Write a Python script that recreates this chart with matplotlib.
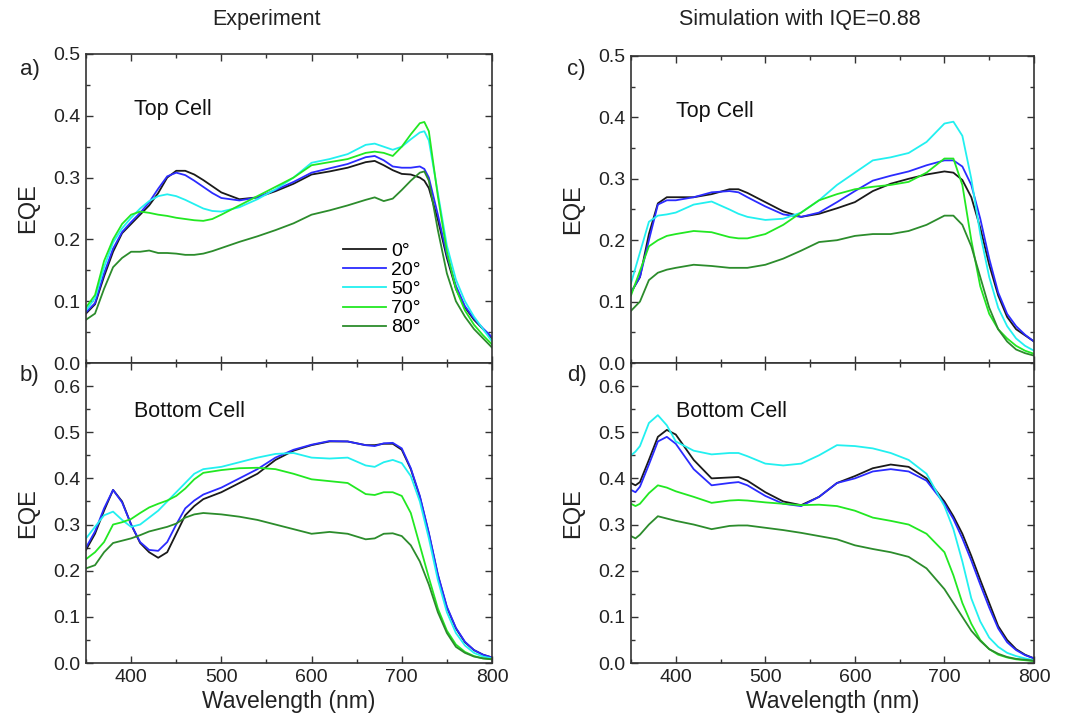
import matplotlib
matplotlib.use("Agg")
import matplotlib.pyplot as plt
from matplotlib.ticker import MultipleLocator

plt.rcParams['font.family'] = ['Liberation Sans', 'DejaVu Sans']

angles = ['0°', '20°', '50°', '70°', '80°']
colors = ['#1a1a1a', '#2b2bff', '#22f0f0', '#22e822', '#2c8c2c']

# ---- a) experiment, top cell
a_wl = [350, 360, 370, 380, 390, 400, 410, 420, 430, 440, 450, 460, 470, 480, 490, 500,
        520, 540, 560, 580, 600, 620, 640, 660, 670, 680, 690, 700, 710, 720, 725, 730,
        740, 750, 760, 770, 780, 790, 800]
a_0 = [0.080, 0.095, 0.140, 0.180, 0.210, 0.225, 0.240, 0.255, 0.275, 0.300, 0.311, 0.311,
       0.305, 0.296, 0.286, 0.276, 0.265, 0.268, 0.278, 0.290, 0.305, 0.310, 0.316, 0.325,
       0.327, 0.320, 0.312, 0.306, 0.305, 0.300, 0.295, 0.283, 0.232, 0.170, 0.120, 0.090,
       0.070, 0.055, 0.040]
a_20 = [0.082, 0.097, 0.145, 0.185, 0.212, 0.228, 0.243, 0.260, 0.282, 0.302, 0.308, 0.304,
        0.295, 0.285, 0.275, 0.267, 0.263, 0.268, 0.280, 0.293, 0.308, 0.315, 0.322, 0.333,
        0.335, 0.328, 0.318, 0.316, 0.316, 0.318, 0.314, 0.300, 0.240, 0.175, 0.125, 0.092,
        0.072, 0.056, 0.042]
a_50 = [0.085, 0.105, 0.155, 0.195, 0.218, 0.235, 0.250, 0.262, 0.270, 0.273, 0.270, 0.264,
        0.257, 0.250, 0.246, 0.245, 0.252, 0.265, 0.281, 0.300, 0.324, 0.330, 0.338, 0.353,
        0.355, 0.350, 0.345, 0.350, 0.362, 0.373, 0.375, 0.360, 0.275, 0.190, 0.135, 0.100,
        0.075, 0.055, 0.035]
a_70 = [0.090, 0.110, 0.165, 0.200, 0.225, 0.240, 0.245, 0.243, 0.240, 0.238, 0.235, 0.233,
        0.231, 0.230, 0.233, 0.240, 0.255, 0.270, 0.285, 0.300, 0.320, 0.325, 0.330, 0.340,
        0.342, 0.340, 0.335, 0.350, 0.370, 0.388, 0.390, 0.375, 0.270, 0.180, 0.120, 0.085,
        0.062, 0.045, 0.030]
a_80 = [0.070, 0.080, 0.120, 0.155, 0.170, 0.180, 0.180, 0.182, 0.178, 0.178, 0.177, 0.175,
        0.175, 0.177, 0.181, 0.186, 0.196, 0.205, 0.215, 0.226, 0.240, 0.247, 0.255, 0.264,
        0.268, 0.262, 0.266, 0.280, 0.295, 0.308, 0.310, 0.295, 0.215, 0.145, 0.100, 0.075,
        0.055, 0.040, 0.025]

# ---- b) experiment, bottom cell
b_wl = [350, 360, 370, 380, 390, 400, 410, 420, 430, 440, 450, 460, 470, 480, 500, 520,
        540, 560, 580, 600, 620, 640, 660, 670, 680, 690, 700, 710, 720, 730, 740, 750,
        760, 770, 780, 790, 800]
b_0 = [0.245, 0.280, 0.330, 0.375, 0.350, 0.300, 0.260, 0.240, 0.228, 0.240, 0.280, 0.320,
       0.340, 0.355, 0.370, 0.390, 0.410, 0.440, 0.460, 0.472, 0.480, 0.480, 0.472, 0.472,
       0.475, 0.475, 0.462, 0.420, 0.360, 0.280, 0.190, 0.120, 0.075, 0.045, 0.028, 0.018,
       0.012]
b_20 = [0.250, 0.285, 0.335, 0.375, 0.348, 0.300, 0.262, 0.245, 0.243, 0.262, 0.300, 0.335,
        0.352, 0.365, 0.380, 0.400, 0.420, 0.445, 0.462, 0.473, 0.481, 0.480, 0.472, 0.470,
        0.476, 0.477, 0.465, 0.422, 0.362, 0.282, 0.192, 0.122, 0.076, 0.046, 0.028, 0.018,
        0.012]
b_50 = [0.270, 0.295, 0.320, 0.328, 0.310, 0.295, 0.300, 0.315, 0.330, 0.350, 0.370, 0.390,
        0.410, 0.420, 0.425, 0.435, 0.445, 0.453, 0.455, 0.445, 0.443, 0.445, 0.428, 0.425,
        0.435, 0.440, 0.433, 0.405, 0.350, 0.270, 0.180, 0.110, 0.065, 0.038, 0.022, 0.014,
        0.010]
b_70 = [0.225, 0.240, 0.262, 0.300, 0.305, 0.312, 0.325, 0.337, 0.345, 0.352, 0.362, 0.378,
        0.398, 0.412, 0.418, 0.422, 0.423, 0.420, 0.410, 0.398, 0.394, 0.390, 0.366, 0.364,
        0.370, 0.370, 0.362, 0.325, 0.255, 0.185, 0.118, 0.070, 0.040, 0.024, 0.015, 0.010,
        0.008]
b_80 = [0.205, 0.212, 0.240, 0.260, 0.265, 0.270, 0.277, 0.285, 0.290, 0.295, 0.302, 0.315,
        0.322, 0.325, 0.322, 0.317, 0.310, 0.300, 0.290, 0.280, 0.284, 0.280, 0.268, 0.270,
        0.280, 0.281, 0.275, 0.255, 0.220, 0.170, 0.110, 0.065, 0.035, 0.022, 0.014, 0.010,
        0.008]

# ---- c) simulation, top cell
c_wl = [350, 360, 370, 380, 390, 400, 420, 440, 460, 470, 480, 500, 520, 540, 560, 580,
        600, 620, 640, 660, 680, 700, 710, 720, 730, 740, 750, 760, 770, 780, 790, 800]
c_0 = [0.115, 0.140, 0.210, 0.260, 0.270, 0.270, 0.270, 0.275, 0.283, 0.283, 0.277, 0.262,
       0.247, 0.238, 0.243, 0.252, 0.262, 0.280, 0.292, 0.300, 0.307, 0.312, 0.310, 0.298,
       0.270, 0.220, 0.160, 0.110, 0.075, 0.055, 0.045, 0.035]
c_20 = [0.115, 0.140, 0.200, 0.258, 0.265, 0.265, 0.270, 0.278, 0.280, 0.278, 0.270, 0.255,
        0.242, 0.238, 0.245, 0.262, 0.280, 0.297, 0.305, 0.312, 0.322, 0.330, 0.330, 0.320,
        0.290, 0.235, 0.170, 0.115, 0.080, 0.060, 0.046, 0.035]
c_50 = [0.130, 0.180, 0.230, 0.240, 0.242, 0.245, 0.258, 0.263, 0.250, 0.243, 0.238, 0.233,
        0.235, 0.245, 0.265, 0.290, 0.310, 0.330, 0.335, 0.342, 0.360, 0.390, 0.393, 0.370,
        0.300, 0.210, 0.140, 0.090, 0.060, 0.040, 0.028, 0.020]
c_70 = [0.110, 0.150, 0.190, 0.200, 0.207, 0.210, 0.215, 0.213, 0.205, 0.203, 0.203, 0.210,
        0.225, 0.245, 0.265, 0.275, 0.283, 0.287, 0.290, 0.295, 0.310, 0.333, 0.333, 0.290,
        0.200, 0.125, 0.080, 0.055, 0.040, 0.028, 0.020, 0.015]
c_80 = [0.085, 0.100, 0.135, 0.147, 0.152, 0.155, 0.160, 0.158, 0.155, 0.155, 0.155, 0.160,
        0.170, 0.183, 0.197, 0.200, 0.207, 0.210, 0.210, 0.215, 0.225, 0.240, 0.240, 0.225,
        0.190, 0.140, 0.090, 0.055, 0.035, 0.022, 0.016, 0.012]

# ---- d) simulation, bottom cell
d_wl = [350, 355, 360, 370, 380, 390, 400, 420, 440, 460, 470, 480, 500, 520, 540, 560,
        580, 600, 620, 640, 660, 680, 700, 710, 720, 730, 740, 750, 760, 770, 780, 790, 800]
d_0 = [0.390, 0.385, 0.392, 0.440, 0.490, 0.505, 0.495, 0.440, 0.400, 0.402, 0.403, 0.395,
       0.370, 0.350, 0.342, 0.360, 0.390, 0.405, 0.422, 0.430, 0.425, 0.400, 0.350, 0.318,
       0.280, 0.232, 0.180, 0.130, 0.080, 0.050, 0.030, 0.018, 0.010]
d_20 = [0.375, 0.370, 0.382, 0.430, 0.480, 0.490, 0.475, 0.420, 0.385, 0.390, 0.392, 0.385,
        0.362, 0.345, 0.340, 0.360, 0.390, 0.400, 0.415, 0.420, 0.415, 0.395, 0.345, 0.312,
        0.270, 0.222, 0.170, 0.120, 0.075, 0.045, 0.028, 0.017, 0.010]
d_50 = [0.450, 0.458, 0.470, 0.520, 0.537, 0.515, 0.480, 0.460, 0.452, 0.455, 0.455, 0.448,
        0.432, 0.428, 0.432, 0.450, 0.472, 0.470, 0.465, 0.455, 0.440, 0.410, 0.340, 0.290,
        0.220, 0.140, 0.090, 0.055, 0.035, 0.022, 0.015, 0.010, 0.006]
d_70 = [0.345, 0.340, 0.345, 0.368, 0.385, 0.380, 0.372, 0.360, 0.347, 0.352, 0.353, 0.352,
        0.348, 0.345, 0.342, 0.343, 0.340, 0.330, 0.315, 0.308, 0.300, 0.280, 0.240, 0.190,
        0.130, 0.085, 0.050, 0.030, 0.018, 0.012, 0.008, 0.006, 0.004]
d_80 = [0.275, 0.270, 0.278, 0.300, 0.318, 0.313, 0.308, 0.300, 0.290, 0.297, 0.298, 0.298,
        0.293, 0.288, 0.282, 0.275, 0.268, 0.255, 0.247, 0.240, 0.230, 0.205, 0.160, 0.130,
        0.100, 0.070, 0.048, 0.030, 0.020, 0.013, 0.009, 0.007, 0.005]

panels = [
    ('a)', 'Top Cell', a_wl, [a_0, a_20, a_50, a_70, a_80]),
    ('b)', 'Bottom Cell', b_wl, [b_0, b_20, b_50, b_70, b_80]),
    ('c)', 'Top Cell', c_wl, [c_0, c_20, c_50, c_70, c_80]),
    ('d)', 'Bottom Cell', d_wl, [d_0, d_20, d_50, d_70, d_80]),
]

fig = plt.figure(figsize=(10.71, 7.23), dpi=100)
W, H = 1071.0, 723.0
# axes rectangles in pixels: left, top, right, bottom
rects = [(86, 54, 492, 363), (86, 363, 492, 663), (631, 56, 1034, 363), (631, 363, 1034, 663)]
label_pos = [(20, 70), (20, 375), (567, 70), (567, 375)]

for i, (lab, cell, wl, series) in enumerate(panels):
    l, t, r, b = rects[i]
    ax = fig.add_axes([l / W, 1 - b / H, (r - l) / W, (b - t) / H])
    for ys, c, name in zip(series, colors, angles):
        ax.plot(wl, ys, color=c, lw=1.3, label=name)
    top = i % 2 == 0
    ax.set_xlim(350, 800)
    ax.set_ylim(0, 0.5 if top else 0.65)
    ax.xaxis.set_major_locator(MultipleLocator(100))
    ax.xaxis.set_minor_locator(MultipleLocator(50))
    ax.yaxis.set_minor_locator(MultipleLocator(0.05))
    ax.set_yticks([0, 0.1, 0.2, 0.3, 0.4, 0.5] if top else [0, 0.1, 0.2, 0.3, 0.4, 0.5, 0.6])
    ax.yaxis.set_major_formatter(plt.FuncFormatter(lambda v, p: '%.1f' % v))
    ax.tick_params(which='both', direction='in', top=True, right=True, colors='#333333',
                   labelcolor='#222222', labelsize=14, width=1.0)
    ax.tick_params(which='major', length=5, pad=4)
    ax.tick_params(which='minor', length=3)
    for s in ax.spines.values():
        s.set_color('#333333')
        s.set_linewidth(1.2)
    if top:
        ax.tick_params(labelbottom=False)
    else:
        ax.set_xlabel('Wavelength (nm)', fontsize=16.5, color='#222222', labelpad=3)
    ax.set_ylabel('EQE', fontsize=17, color='#222222', labelpad=10)
    ax.text(403 if i < 2 else 400, 0.41 if top else 0.545, cell, fontsize=15.5,
            color='#111111', va='center', ha='left')
    fig.text(label_pos[i][0] / W, 1 - label_pos[i][1] / H, lab, fontsize=16,
             color='#222222', va='center', ha='left')
    if i == 0:
        ax.legend(loc='upper left', bbox_to_anchor=(0.6, 0.435), frameon=False,
                  fontsize=14, handlelength=2.2, labelspacing=0.08, handletextpad=0.25,
                  borderpad=0.2)

fig.text(266 / W, 1 - 19 / H, 'Experiment', fontsize=15.5, color='#222222', ha='center', va='center')
fig.text(800 / W, 1 - 19 / H, 'Simulation with IQE=0.88', fontsize=15.5, color='#222222',
         ha='center', va='center')

fig.savefig('out.png', dpi=100)
